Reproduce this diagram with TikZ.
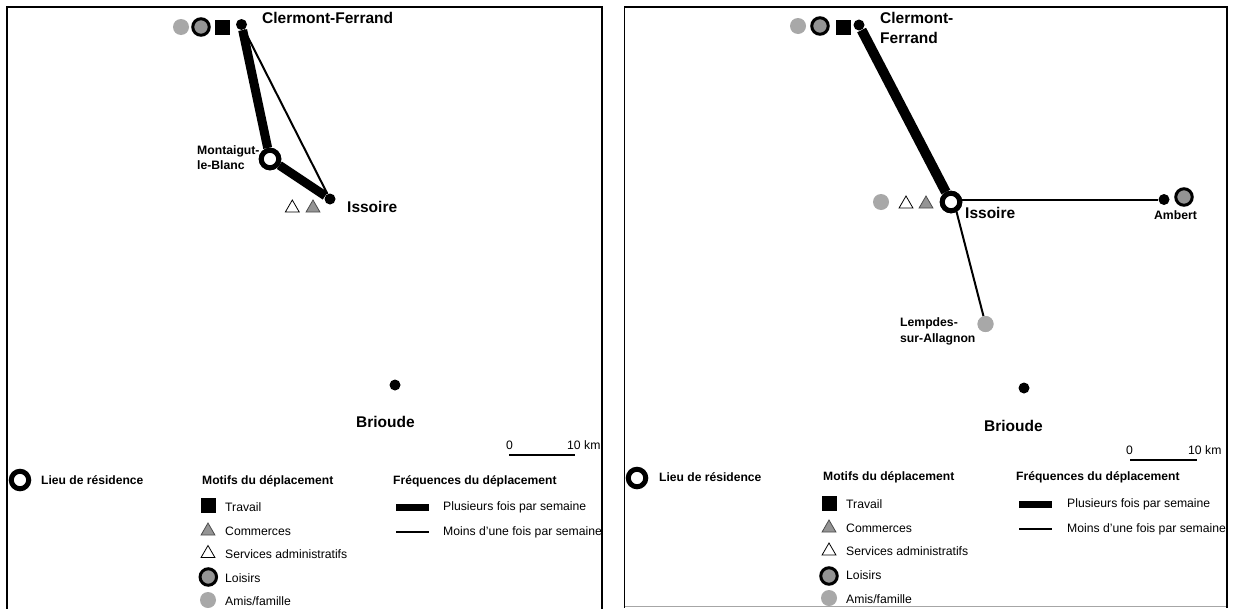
\documentclass[tikz,border=0pt]{standalone}
\usepackage{fontspec}
\setmainfont{Liberation Sans}
\usetikzlibrary{shapes.geometric}
\definecolor{gA}{gray}{0.66}
\definecolor{gB}{gray}{0.58}
\tikzset{x=1pt,y=-1pt,
 frame/.style={draw=black,line width=1.6pt},
 citydot/.style={circle,fill=black,inner sep=0pt,minimum size=11pt},
 home/.style={circle,draw=black,fill=white,line width=5pt,inner sep=0pt,minimum size=17.5pt},
 workm/.style={rectangle,fill=black,inner sep=0pt,minimum size=15pt},
 leisure/.style={circle,draw=black,fill=gB,line width=3pt,inner sep=0pt,minimum size=16.5pt},
 friend/.style={circle,fill=gA,inner sep=0pt,minimum size=16pt},
 shop/.style={regular polygon,regular polygon sides=3,draw=black!70,fill=gB,line width=.8pt,inner sep=0pt,minimum size=16pt},
 admin/.style={regular polygon,regular polygon sides=3,draw=black,fill=white,line width=.8pt,inner sep=0pt,minimum size=16pt},
 heavy/.style={line width=9pt},
 heavier/.style={line width=10pt},
 key/.style={line width=7pt},
 light/.style={line width=2pt},
 big/.style={font=\fontsize{15.5}{19.5}\selectfont\bfseries,align=left,inner sep=0pt},
 mid/.style={font=\fontsize{12.2}{15.5}\selectfont\bfseries,align=left,inner sep=0pt},
 head/.style={font=\fontsize{12.1}{14}\selectfont\bfseries,anchor=west,inner sep=0pt},
 item/.style={font=\fontsize{12.2}{14}\selectfont,anchor=west,inner sep=0pt},
}
\begin{document}
\begin{tikzpicture}
\useasboundingbox (0,0) rectangle (1234,608);
\fill[white] (0,0) rectangle (1234,608);
\begin{scope}
\clip (0,0) rectangle (1234,608);
\draw[frame] (7,620) -- (7,7) -- (602,7) -- (602,620);
\draw[draw=black!35,line width=1pt] (624.5,606.7) -- (1227,606.7);
\draw[frame] (624.5,607.5) -- (624.5,7) -- (1227,7) -- (1227,607.5);
\end{scope}
% left map
\node[citydot] (cf1) at (241.5,24.5) {};
\node[citydot] (is1) at (330,199) {};
\node[citydot] (br1) at (395,385) {};
\node[home] (mo1) at (270,159) {};
\draw[heavy] (cf1) -- (mo1);
\draw[heavy] (mo1) -- (is1);
\draw[light] (cf1) -- (is1);
\node[home] at (270,159) {};
\node[workm] (w1) at (222.3,27) {};
\node[leisure] (l1) at (201,27) {};
\node[friend] (f1) at (181,27) {};
\node[admin] (a1) at (292.3,208) {};
\node[shop] (s1) at (313,208) {};
\node[big,anchor=west] (t1) at (262,18) {Clermont-Ferrand};
\node[mid,anchor=west] (t2) at (197,157.5) {Montaigut-\\le-Blanc};
\node[big,anchor=west] (t3) at (347,207) {Issoire};
\node[big,anchor=west] (t4) at (356,422) {Brioude};
\node[item] (sc1) at (506,445) {0};
\node[item] (sc2) at (567,445) {10 km};
\coordinate (b1a) at (509,455);
\coordinate (b1b) at (575,455);
\draw[light] (b1a) -- (b1b);
% left legend
\node[home] (lh1) at (20,480) {};
\node[head] at (41,480) {Lieu de résidence};
\node[head] at (202,481) {Motifs du déplacement};
\node[head] at (393,481) {Fréquences du déplacement};
\node[workm] at (208,505) {};
\node[item] at (225,507) {Travail};
\node[shop] at (208,531) {};
\node[item] at (225,531) {Commerces};
\node[admin] at (208,553.5) {};
\node[item] at (225,554) {Services administratifs};
\node[leisure] at (208.3,577) {};
\node[item] at (225,578) {Loisirs};
\node[friend] at (208,600) {};
\node[item] at (225,601) {Amis/famille};
\coordinate (hl1a) at (396,507); \coordinate (hl1b) at (429,507);
\draw[key] (hl1a) -- (hl1b);
\node[item] at (443,507) {Plusieurs fois par semaine};
\coordinate (tl1a) at (396,532); \coordinate (tl1b) at (429,532);
\draw[light] (tl1a) -- (tl1b);
\node[item] at (443,532) {Moins d'une fois par semaine};
% right map
\node[citydot] (cf2) at (859,25) {};
\node[citydot] (am2) at (1164,199.5) {};
\node[citydot] (br2) at (1024,388) {};
\node[home] (is2) at (951,202) {};
\node[friend] (le2) at (985.5,324) {};
\draw[heavier] (cf2) -- (is2);
\draw[light] (is2 |- am2) -- (am2);
\draw[light] ([xshift=3pt]is2.center) -- (le2);
\node[home] at (951,202) {};
\node[friend] at (985.5,324) {};
\node[workm] (w2) at (843,27) {};
\node[leisure] (l2) at (820,26) {};
\node[friend] (f2) at (798,26) {};
\node[admin] (a2) at (906,204) {};
\node[shop] (s2) at (926,204) {};
\node[friend] (f3) at (881,202) {};
\node[leisure] (l3) at (1184,197) {};
\node[big,anchor=west] (t5) at (880,28) {Clermont-\\Ferrand};
\node[big,anchor=west] (t6) at (965,213) {Issoire};
\node[mid,anchor=center] (t7) at (1175.5,215) {Ambert};
\node[mid,anchor=west] (t8) at (900,331.5) {Lempdes-\\sur-Allagnon};
\node[big,anchor=west] (t9) at (984,426) {Brioude};
\node[item] (sc3) at (1126,450) {0};
\node[item] (sc4) at (1188,450) {10 km};
\coordinate (b2a) at (1130,460);
\coordinate (b2b) at (1197,460);
\draw[light] (b2a) -- (b2b);
% right legend
\node[home] at (637,478) {};
\node[head] at (659,477) {Lieu de résidence};
\node[head] at (823,477) {Motifs du déplacement};
\node[head] at (1016,477) {Fréquences du déplacement};
\node[workm] at (829,503) {};
\node[item] at (846,504) {Travail};
\node[shop] at (829,528) {};
\node[item] at (846,528) {Commerces};
\node[admin] at (829,551) {};
\node[item] at (846,551) {Services administratifs};
\node[leisure] at (829,576) {};
\node[item] at (846,575) {Loisirs};
\node[friend] at (829,598) {};
\node[item] at (846,599) {Amis/famille};
\coordinate (hl2a) at (1019,504); \coordinate (hl2b) at (1052,504);
\draw[key] (hl2a) -- (hl2b);
\node[item] at (1067,504) {Plusieurs fois par semaine};
\coordinate (tl2a) at (1019,529); \coordinate (tl2b) at (1052,529);
\draw[light] (tl2a) -- (tl2b);
\node[item] at (1067,529) {Moins d'une fois par semaine};
\end{tikzpicture}
\end{document}
